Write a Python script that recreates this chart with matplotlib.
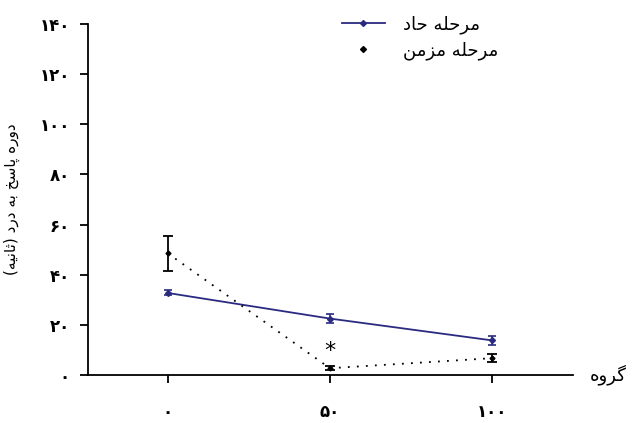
import matplotlib
matplotlib.use('Agg')
import matplotlib.pyplot as plt
from matplotlib.lines import Line2D

# data
groups = [0, 50, 100]
acute = [32.7, 22.5, 13.8]
acute_err = [1.0, 1.7, 1.7]
chronic = [48.5, 2.7, 6.7]
chronic_err = [7.0, 0.8, 1.7]
star_pos = (50, 9.7)
yticks = [0, 20, 40, 60, 80, 100, 120, 140]

acute_label = 'مرحله حاد'
chronic_label = 'مرحله مزمن'
xlabel = 'گروه'
ylabel = 'دوره پاسخ به درد (ثانیه)'

# simple persian shaping (matplotlib has no RTL / joining support)
forms = {
    'ا': ('\uFE8D', '\uFE8E', None, None),
    'ب': ('\uFE8F', '\uFE90', '\uFE91', '\uFE92'),
    'ت': ('\uFE95', '\uFE96', '\uFE97', '\uFE98'),
    'ث': ('\uFE99', '\uFE9A', '\uFE9B', '\uFE9C'),
    'ح': ('\uFEA1', '\uFEA2', '\uFEA3', '\uFEA4'),
    'خ': ('\uFEA5', '\uFEA6', '\uFEA7', '\uFEA8'),
    'د': ('\uFEA9', '\uFEAA', None, None),
    'ر': ('\uFEAD', '\uFEAE', None, None),
    'ز': ('\uFEAF', '\uFEB0', None, None),
    'س': ('\uFEB1', '\uFEB2', '\uFEB3', '\uFEB4'),
    'ل': ('\uFEDD', '\uFEDE', '\uFEDF', '\uFEE0'),
    'م': ('\uFEE1', '\uFEE2', '\uFEE3', '\uFEE4'),
    'ن': ('\uFEE5', '\uFEE6', '\uFEE7', '\uFEE8'),
    'ه': ('\uFEE9', '\uFEEA', '\uFEEB', '\uFEEC'),
    'و': ('\uFEED', '\uFEEE', None, None),
    'پ': ('\uFB56', '\uFB57', '\uFB58', '\uFB59'),
    'گ': ('\uFB92', '\uFB93', '\uFB94', '\uFB95'),
    'ی': ('\uFBFC', '\uFBFD', '\uFBFE', '\uFBFF'),
}


def shape(s):
    out = []
    for i, c in enumerate(s):
        if c not in forms:
            out.append({'(': ')', ')': '('}.get(c, c))
            continue
        prev = s[i - 1] if i > 0 else ''
        nxt = s[i + 1] if i < len(s) - 1 else ''
        jp = prev in forms and forms[prev][2] is not None
        jn = forms[c][2] is not None and nxt in forms
        iso, fin, ini, med = forms[c]
        if jp and jn:
            out.append(med)
        elif jp:
            out.append(fin)
        elif jn:
            out.append(ini)
        else:
            out.append(iso)
    return ''.join(reversed(out))


def fa_digits(n):
    return ''.join('۰۱۲۳۴۵۶۷۸۹'[int(d)] for d in str(n))


plt.rcParams['font.family'] = ['DejaVu Sans']

fig = plt.figure(figsize=(6.36, 4.23), dpi=100)
ax = fig.add_axes([0.138, 0.1135, 0.763, 0.83])

navy = '#2a2a80'
ax.errorbar(groups, acute, yerr=acute_err, color=navy, lw=1.3, marker='D',
            markersize=3, capsize=3, elinewidth=1.2, capthick=1.2)
ax.errorbar(groups, chronic, yerr=chronic_err, color='black', lw=1.3,
            linestyle=(0, (1, 4)), marker='D', markersize=2.5, capsize=3.5,
            elinewidth=1.3, capthick=1.3)
ax.text(star_pos[0], star_pos[1], '*', ha='center', va='center', fontsize=16)

ax.set_xlim(-24.7, 125)
ax.set_ylim(0, 140)
ax.spines['top'].set_visible(False)
ax.spines['right'].set_visible(False)
ax.spines['left'].set_linewidth(1.3)
ax.spines['bottom'].set_linewidth(1.3)

ax.set_yticks(yticks)
ax.set_yticklabels([fa_digits(v) for v in yticks], fontsize=12, fontweight='bold')
ax.set_xticks(groups)
ax.set_xticklabels([fa_digits(v) for v in groups], fontsize=12, fontweight='bold')
ax.tick_params(axis='y', direction='out', length=6, width=1.3, pad=7)
ax.tick_params(axis='x', direction='out', length=6, width=1.3, pad=14)

ax.set_ylabel(shape(ylabel), fontsize=11)
ax.yaxis.set_label_coords(-0.14, 0.5)
ax.text(1.035, 0.0, shape(xlabel), transform=ax.transAxes, fontsize=13,
        ha='left', va='center')

handles = [Line2D([], [], color=navy, lw=1.3, marker='D', markersize=3),
           Line2D([], [], color='black', lw=0, marker='D', markersize=3)]
ax.legend(handles, [shape(acute_label), shape(chronic_label)], frameon=False,
          loc='upper left', bbox_to_anchor=(0.49, 1.07), fontsize=13,
          handlelength=2.4, handletextpad=1.0, labelspacing=0.4)

fig.savefig('out.png', dpi=100)
